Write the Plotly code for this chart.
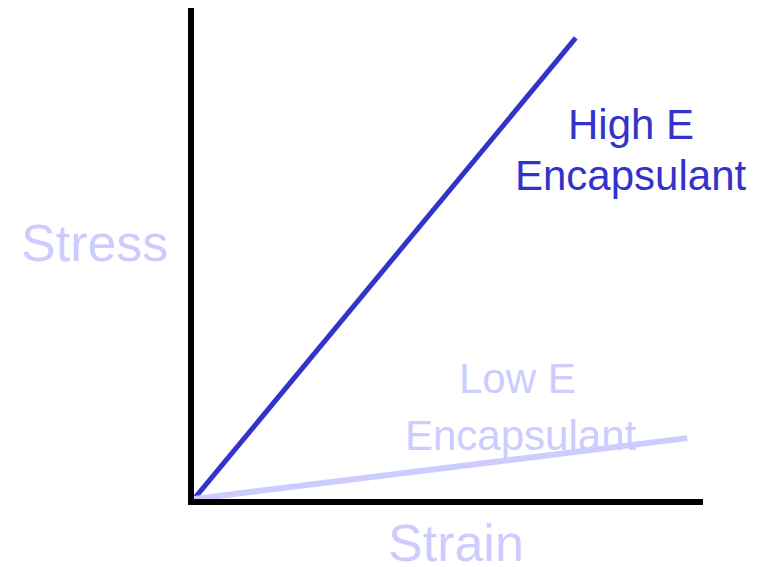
import plotly.graph_objects as go

# strain / stress end points of the two lines (origin at 0,0)
high_strain = [0, 0.750]
high_stress = [0, 0.939]
low_strain = [0, 0.969]
low_stress = [0, 0.124]

dark = "#3333CC"
light = "#CCCCFF"
font = "Liberation Sans, Arial, sans-serif"

fig = go.Figure()
fig.add_trace(go.Scatter(x=high_strain, y=high_stress, mode="lines",
                         line=dict(color=dark, width=5)))
fig.add_trace(go.Scatter(x=low_strain, y=low_stress, mode="lines",
                         line=dict(color=light, width=6)))

# line labels, one annotation per text line to get the tighter spacing
fig.add_annotation(x=0.8585, y=0.763, text="High E", showarrow=False,
                   font=dict(family=font, size=42, color=dark))
fig.add_annotation(x=0.8585, y=0.659, text="Encapsulant", showarrow=False,
                   font=dict(family=font, size=42, color=dark))
fig.add_annotation(x=0.6365, y=0.246, text="Low E", showarrow=False,
                   font=dict(family=font, size=42, color=light))
fig.add_annotation(x=0.642, y=0.130, text="Encapsulant", showarrow=False,
                   font=dict(family=font, size=42, color=light))

# axis titles (horizontal)
fig.add_annotation(xref="paper", yref="paper", x=-0.1945, y=0.521, text="Stress",
                   xanchor="center", yanchor="middle",
                   showarrow=False, font=dict(family=font, size=52, color=light))
fig.add_annotation(xref="paper", yref="paper", x=0.5147, y=-0.0905, text="Strain",
                   xanchor="center", yanchor="middle",
                   showarrow=False, font=dict(family=font, size=52, color=light))

axis = dict(range=[0, 1], showline=True, linewidth=6, linecolor="black",
            showgrid=False, zeroline=False, showticklabels=False, ticks="")
fig.update_layout(
    width=769, height=567,
    margin=dict(l=186, r=74, t=0, b=76, autoexpand=False),
    plot_bgcolor="white", paper_bgcolor="white",
    showlegend=False,
    xaxis=axis, yaxis=axis,
)

fig.write_html("out.html")
